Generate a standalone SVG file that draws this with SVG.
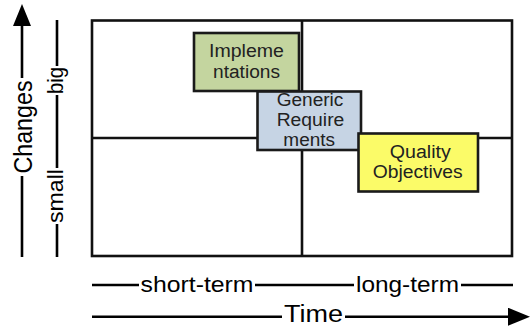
<svg xmlns="http://www.w3.org/2000/svg" width="531" height="327" viewBox="0 0 531 327">
<style>
.ln{stroke:#000;stroke-width:2.6;fill:none}
.grid{stroke:#111;stroke-width:2.6;fill:none}
.box{stroke:#1a1a1a;stroke-width:2.6}
.bt{font-family:"Liberation Sans",Arial,sans-serif;font-size:17.6px;fill:#222;text-anchor:middle}
.ax{font-family:"Liberation Sans",Arial,sans-serif;fill:#000;text-anchor:middle}
</style>
<defs>
<marker id="arr" viewBox="0 0 22 18" refX="0" refY="9" markerWidth="22" markerHeight="18" markerUnits="userSpaceOnUse" orient="auto">
<path d="M0,0 L22,9 L0,18 z" fill="#000"/>
</marker>
</defs>
<rect width="531" height="327" fill="#fff"/>
<g id="grid">
<rect class="grid" x="92" y="20.5" width="420" height="235.5"/>
<line class="grid" x1="302" y1="20.5" x2="302" y2="256"/>
<line class="grid" x1="92" y1="138" x2="512" y2="138"/>
</g>
<g id="axes">
<path class="ln" d="M22,257 L22,176"/>
<path class="ln" d="M22,78 L22,26" marker-end="url(#arr)"/>
<path class="ln" d="M57,257 L57,224 M57,168 L57,95 M57,66 L57,20"/>
<path class="ln" d="M92,285 L139,285 M255,285 L354,285 M461,285 L513,285"/>
<path class="ln" d="M92,316.7 L282,316.7"/>
<path class="ln" d="M345,316.7 L508,316.7" marker-end="url(#arr)"/>
</g>
<g id="axis-labels">
<text class="ax" font-size="25" textLength="93" lengthAdjust="spacingAndGlyphs" transform="translate(31.5,127) rotate(-90)">Changes</text>
<text class="ax" font-size="22" textLength="27" lengthAdjust="spacingAndGlyphs" transform="translate(62.5,80.5) rotate(-90)">big</text>
<text class="ax" font-size="22" textLength="54" lengthAdjust="spacingAndGlyphs" transform="translate(62.5,196) rotate(-90)">small</text>
<text class="ax" font-size="22" x="197" y="292" textLength="113" lengthAdjust="spacingAndGlyphs">short-term</text>
<text class="ax" font-size="22" x="407.5" y="292" textLength="103" lengthAdjust="spacingAndGlyphs">long-term</text>
<text class="ax" font-size="23" x="313.5" y="321.7" textLength="59" lengthAdjust="spacingAndGlyphs">Time</text>
</g>
<g id="implementations">
<rect class="box" x="194" y="33" width="105" height="58" fill="#c4d59f"/>
<text class="bt" x="246.5" y="57.3" textLength="75" lengthAdjust="spacingAndGlyphs">Impleme</text>
<text class="bt" x="246.5" y="78" textLength="67" lengthAdjust="spacingAndGlyphs">ntations</text>
</g>
<g id="generic-requirements">
<rect class="box" x="257.5" y="91.5" width="103.5" height="58.5" fill="#c6d4e4"/>
<text class="bt" x="310" y="105.5" textLength="66.7" lengthAdjust="spacingAndGlyphs">Generic</text>
<text class="bt" x="310.5" y="126" textLength="67.7" lengthAdjust="spacingAndGlyphs">Require</text>
<text class="bt" x="309.2" y="146" textLength="51.7" lengthAdjust="spacingAndGlyphs">ments</text>
</g>
<g id="quality-objectives">
<rect class="box" x="358.5" y="133.5" width="119.5" height="58" fill="#fbfb68"/>
<text class="bt" x="420.3" y="158" textLength="61" lengthAdjust="spacingAndGlyphs">Quality</text>
<text class="bt" x="417.7" y="177.5" textLength="90" lengthAdjust="spacingAndGlyphs">Objectives</text>
</g>
</svg>
